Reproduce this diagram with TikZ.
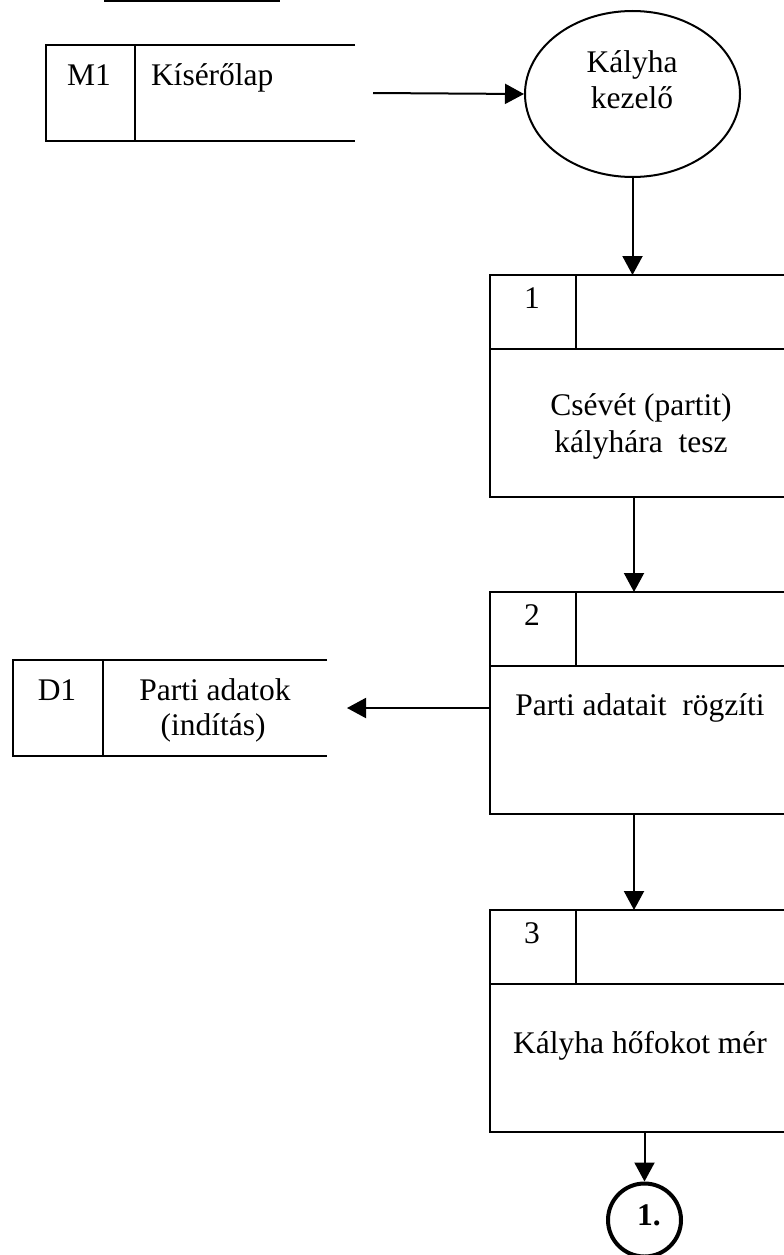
\documentclass[tikz,border=0pt]{standalone}
\usepackage{fontspec}
\setmainfont{Liberation Serif}
\usetikzlibrary{shapes.geometric,arrows.meta}

\begin{document}
\begin{tikzpicture}[x=1pt,y=-1pt,line width=2pt,
  arr/.style={-{Triangle[length=19pt,width=20pt]}},
  lbl/.style={inner sep=0pt,anchor=base,font=\fontsize{31.5}{36}\selectfont},
  hidden/.style={inner sep=0pt,outer sep=0pt},
  procbox/.style={draw,inner sep=0pt,outer sep=0pt,minimum width=310pt,
    minimum height=222pt,anchor=north west}]

\useasboundingbox (0,0) rectangle (784,1255);
\clip (0,0) rectangle (784,1255);

% heading rule at the top edge
\draw (104,1) -- (280,1);

% external source M1
\node[hidden,minimum width=309pt,minimum height=96pt] (m1) at (200.5,93) {};
\draw (m1.north east) -- (m1.north west) -- (m1.south west) -- (m1.south east);
\draw ([xshift=89pt]m1.north west) -- ([xshift=89pt]m1.south west);
\node[lbl] at (89,85) {M1};
\node[lbl,anchor=base west] at (150,85) {Kísérőlap};

% actor
\node[draw,ellipse,inner sep=0pt,minimum width=215pt,minimum height=166pt] (kezelo) at (632.5,94) {};
\node[lbl] at (632,73) {Kályha};
\node[lbl] at (632,108) {kezelő};

% process boxes
\foreach \n/\t in {1/275,2/592,3/910}{
  \node[procbox] (p\n) at (490,\t) {};
  \draw ([yshift=-74pt]p\n.north west) -- ([yshift=-74pt]p\n.north east);
  \draw ([xshift=86pt]p\n.north west) -- ([xshift=86pt,yshift=-74pt]p\n.north west);
  \node[lbl] at (532,\t+33) {\n};
}
\node[lbl] at (641,415) {Csévét (partit)};
\node[lbl] at (641,452) {kályhára\ \ tesz};
\node[lbl] at (640,715) {Parti adatait\ \ rögzíti};
\node[lbl] at (640,1053) {Kályha hőfokot mér};

% data store D1
\node[hidden,minimum width=314pt,minimum height=96pt] (d1) at (170,708) {};
\draw (d1.north east) -- (d1.north west) -- (d1.south west) -- (d1.south east);
\draw ([xshift=90pt]d1.north west) -- ([xshift=90pt]d1.south west);
\node[lbl] at (57,700) {D1};
\node[lbl] at (215,700) {Parti adatok};
\node[lbl] at (213,735) {(indítás)};

% connector to the next page
\node[draw,circle,line width=4pt,inner sep=0pt,minimum size=73pt] (c1) at (644.5,1220) {};
\node[lbl,font=\fontsize{31.5}{36}\selectfont\bfseries] at (649,1225) {1.};

% flows
\coordinate (ax) at (634,0);
\draw[arr] ([xshift=18pt]m1.east) -- (kezelo.west);
\draw[arr] (kezelo.south) -- (kezelo.south |- p1.north);
\draw[arr] (p1.south -| ax) -- (p2.north -| ax);
\draw[arr] (p2.south -| ax) -- (p3.north -| ax);
\draw[arr] (p2.west |- d1.east) -- ([xshift=20pt]d1.east);
\draw[arr] (p3.south -| c1.north) -- (c1.north);
\end{tikzpicture}
\end{document}
